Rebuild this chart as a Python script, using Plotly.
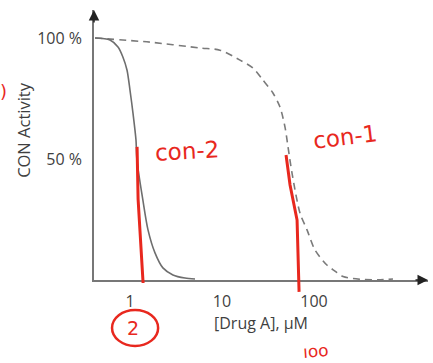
import plotly.graph_objects as go

# ---- data ----
con2_x = [0.417, 0.606, 0.741, 0.839, 0.928, 1.0, 1.078, 1.162, 1.19, 1.38, 1.57, 1.87, 2.28, 2.93, 3.96, 5.09]
con2_y = [100, 99.2, 96.3, 92.1, 86.8, 78.5, 69.0, 57.9, 49.6, 33.1, 20.7, 11.2, 5.0, 2.1, 0.8, 0.4]

con1_x = [0.417, 1.65, 5.77, 9.51, 15.7, 21.7, 27.9, 35.8, 42.7, 48.4, 52.2, 57.7, 70.4, 84.0, 102.5, 138, 169, 207, 316, 522, 722]
con1_y = [100, 98.3, 95.9, 95.0, 90.9, 87.6, 82.6, 77.3, 71.5, 63.2, 55.0, 44.2, 27.7, 20.7, 12.4, 6.2, 3.7, 1.4, 0.3, 0.1, 0.4]

x_tickvals = [1, 10, 100]
x_ticktext = ["1", "10", "100"]
y_tickvals = [100, 50]
y_ticktext = ["100 %", "50 %"]
y_title = "CON Activity"
x_title = "[Drug A], µM"

# handwritten red marks (paper coordinates)
red_line1_x = [0.129, 0.132, 0.147]
red_line1_y = [0.493, 0.30, -0.011]
red_line2_x = [0.575, 0.587, 0.608, 0.614]
red_line2_y = [0.463, 0.352, 0.222, -0.044]
red_notes = [
    ("con-2", 0.278, 0.478, -3, 23),
    ("con-1", 0.751, 0.530, -7, 23),
    ("2", 0.117, -0.178, 0, 19),
    ("ıoo", 0.665, -0.262, -4, 17),
    (")", -0.272, 0.700, 0, 18),
]

GRAY = "#6e6e6e"
RED = "#e8281e"
FONT = "Open Sans, Lato, sans-serif"
TXT = "#3f3f3f"

fig = go.Figure()
fig.add_trace(go.Scatter(x=con1_x, y=con1_y, mode="lines",
                         line=dict(color="#7a7a7a", width=1.6, dash="7px,5px", shape="spline", smoothing=0.8),
                         showlegend=False, hoverinfo="skip"))
fig.add_trace(go.Scatter(x=con2_x, y=con2_y, mode="lines",
                         line=dict(color=GRAY, width=1.6, shape="spline", smoothing=0.8),
                         showlegend=False, hoverinfo="skip"))

shapes = []
def path_from(xs, ys):
    p = f"M {xs[0]},{ys[0]}"
    for a, b in zip(xs[1:], ys[1:]):
        p += f" L {a},{b}"
    return p

shapes.append(dict(type="path", xref="paper", yref="paper",
                   path=path_from(red_line1_x, red_line1_y),
                   line=dict(color=RED, width=3)))
shapes.append(dict(type="path", xref="paper", yref="paper",
                   path=path_from(red_line2_x, red_line2_y),
                   line=dict(color=RED, width=3)))
# circle around the "2"
shapes.append(dict(type="circle", xref="paper", yref="paper",
                   x0=0.054, x1=0.192, y0=-0.244, y1=-0.111,
                   line=dict(color=RED, width=2.5)))

annotations = []
for txt, ax_, ay_, rot, sz in red_notes:
    annotations.append(dict(text=txt, x=ax_, y=ay_, xref="paper", yref="paper",
                            xanchor="center", yanchor="middle",
                            showarrow=False, textangle=rot,
                            font=dict(family="DejaVu Sans, sans-serif", size=sz, color=RED)))

# y axis title
annotations.append(dict(text=y_title, x=-0.2096, y=0.556, xref="paper", yref="paper",
                        xanchor="center", yanchor="middle", showarrow=False, textangle=-90,
                        font=dict(family=FONT, size=16.5, color=TXT)))

# axis arrowheads
annotations.append(dict(x=0, y=1.0, xref="paper", yref="paper", ax=0, ay=14,
                        showarrow=True, arrowhead=2, arrowsize=1.4, arrowwidth=1.5,
                        arrowcolor="#222", text="", standoff=0))
annotations.append(dict(x=1.0, y=0, xref="paper", yref="paper", ax=-14, ay=0,
                        showarrow=True, arrowhead=2, arrowsize=1.4, arrowwidth=1.5,
                        arrowcolor="#222", text="", standoff=0))

fig.update_layout(
    width=433, height=363,
    margin=dict(l=94, r=5, t=10, b=83),
    paper_bgcolor="white", plot_bgcolor="white",
    font=dict(family=FONT, size=16, color=TXT),
    shapes=shapes, annotations=annotations,
    xaxis=dict(type="log", range=[-0.391, 3.239], tickvals=x_tickvals, ticktext=x_ticktext,
               showgrid=False, zeroline=False, showline=True, linecolor="#777", linewidth=1.5,
               ticks="", ticklabelstandoff=6, tickfont=dict(size=16, color=TXT),
               title=dict(text=x_title, standoff=3, font=dict(size=16, color=TXT))),
    yaxis=dict(range=[0, 111.6], tickvals=y_tickvals, ticktext=y_ticktext,
               showgrid=False, zeroline=False, showline=True, linecolor="#777", linewidth=1.5,
               ticks="", ticklabelstandoff=7, tickfont=dict(size=16, color=TXT)),
)

fig.write_html("out.html")
